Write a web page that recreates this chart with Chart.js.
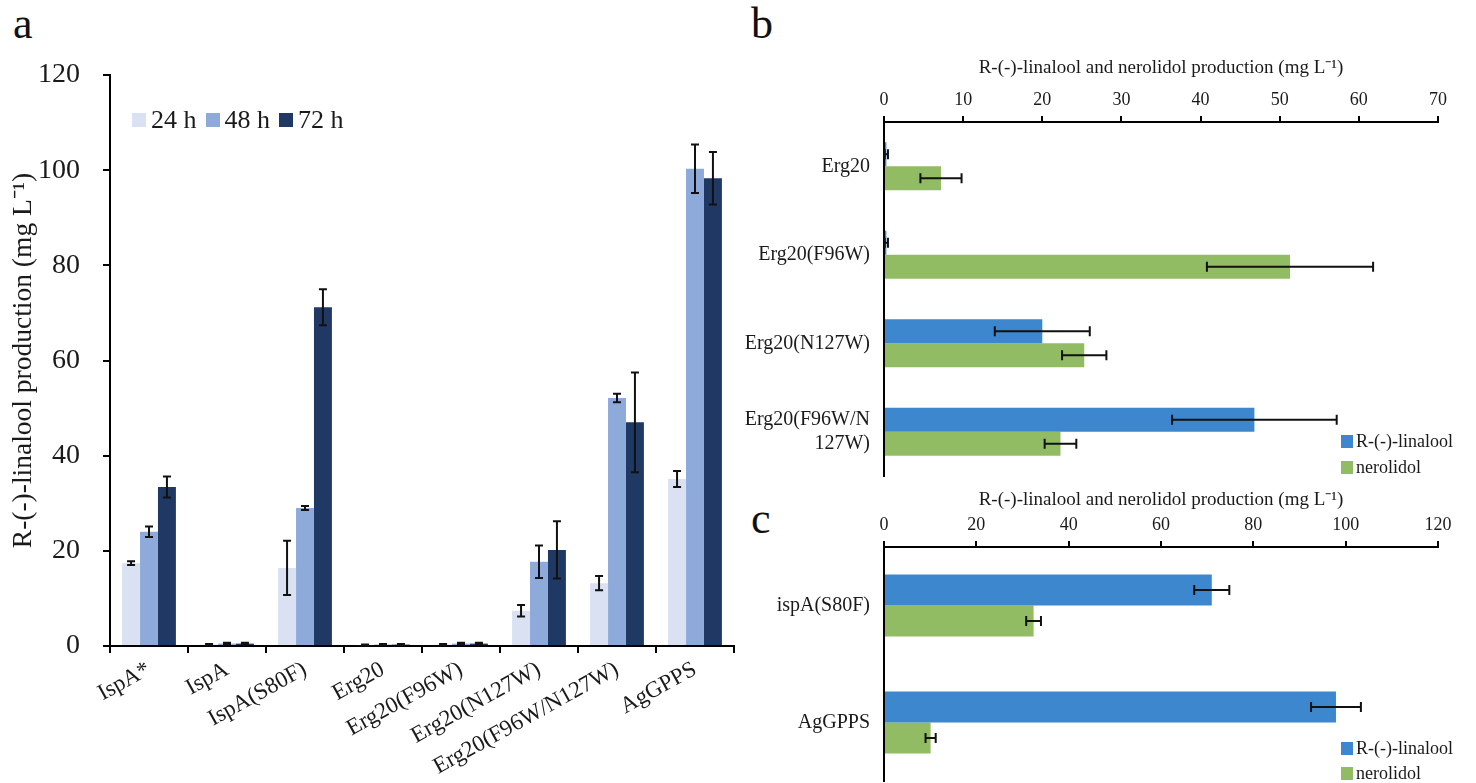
<!DOCTYPE html>
<html><head><meta charset="utf-8">
<script src="https://cdn.jsdelivr.net/npm/chart.js@4.4.1/dist/chart.umd.min.js"></script>
<style>
html,body{margin:0;padding:0;background:#fff;}
body{width:1476px;height:783px;position:relative;overflow:hidden;font-family:"Liberation Serif","Times New Roman",serif;color:#1a1a1a;}
canvas{position:absolute;}
.pl{position:absolute;font-size:44px;line-height:44px;color:#111;}
.leg{position:absolute;display:flex;align-items:center;white-space:nowrap;}
.leg span.box{display:inline-block;}
</style></head><body>
<div class="pl" style="left:13px;top:2px">a</div>
<div class="pl" style="left:751px;top:2px">b</div>
<div class="pl" style="left:751px;top:497px">c</div>
<canvas id="ca" width="745" height="783" style="left:0;top:0"></canvas>
<canvas id="cb" width="736" height="490" style="left:740px;top:0"></canvas>
<canvas id="cc" width="736" height="303" style="left:740px;top:480px"></canvas>
<div id="legA" class="leg" style="left:132px;top:105px;height:30px;font-size:26px"></div>
<div id="legB" style="position:absolute;left:1341px;top:428px;font-size:18px;line-height:26px"></div>
<div id="legC" style="position:absolute;left:1341px;top:736px;font-size:18px;line-height:25px"></div>
<script>
// ---- data: panel a ----
const catsA = ['IspA*','IspA','IspA(S80F)','Erg20','Erg20(F96W)','Erg20(N127W)','Erg20(F96W/N127W)','AgGPPS'];
const seriesA = ['24 h','48 h','72 h'];
const h24    = [17.4, 0.3, 16.4, 0.2, 0.3,  7.4, 13.2,  35.1];
const h24err = [ 0.4, 0.1,  5.7, 0.1, 0.1,  1.2,  1.5,   1.7];
const h48    = [24.0, 0.5, 29.0, 0.3, 0.5, 17.7, 52.1, 100.3];
const h48err = [ 1.1, 0.2,  0.4, 0.1, 0.2,  3.4,  0.9,   5.1];
const h72    = [33.4, 0.5, 71.2, 0.3, 0.5, 20.2, 47.0,  98.3];
const h72err = [ 2.2, 0.2,  3.8, 0.1, 0.2,  6.0, 10.5,   5.5];
const ticksA = {min:0, max:120, step:20};
// ---- data: panel b ----
const catsB = ['Erg20','Erg20(F96W)','Erg20(N127W)',['Erg20(F96W/N','127W)']];
const seriesBC = ['R-(-)-linalool','nerolidol'];
const linB    = [0.3, 0.3, 20.0, 46.8];
const linBerr = [0.2, 0.2,  6.0, 10.4];
const nerB    = [7.2, 51.3, 25.3, 22.3];
const nerBerr = [2.6, 10.5,  2.8,  2.0];
const ticksB = {min:0, max:70, step:10};
// ---- data: panel c ----
const catsC = ['ispA(S80F)','AgGPPS'];
const linC    = [71.0, 97.9];
const linCerr = [ 3.8,  5.4];
const nerC    = [32.4, 10.1];
const nerCerr = [ 1.6,  1.1];
const ticksC = {min:0, max:120, step:20};
const titleA = 'R-(-)-linalool production (mg L\u207B\u00B9)';
const titleBC = 'R-(-)-linalool and nerolidol production (mg L\u207B\u00B9)';

const F = '"Liberation Serif","Times New Roman",serif';
const colA = ['#d9e1f2','#8eaadb','#203864'];
const colBC = ['#3c87cd','#92bc63'];
const TXT = '#1a1a1a';

const errorBars = {
  id:'errorBars',
  afterDatasetsDraw(chart, args, opts){
    const ctx = chart.ctx;
    const horiz = chart.options.indexAxis === 'y';
    const vScale = horiz ? chart.scales.x : chart.scales.y;
    chart.data.datasets.forEach((ds,i)=>{
      if(!ds.errors) return;
      const meta = chart.getDatasetMeta(i);
      meta.data.forEach((bar,j)=>{
        const v = ds.data[j], e = ds.errors[j];
        const p1 = vScale.getPixelForValue(v-e), p2 = vScale.getPixelForValue(v+e);
        const cap = opts.cap || 4;
        ctx.save();
        ctx.strokeStyle = '#111'; ctx.lineWidth = opts.width || 2;
        ctx.beginPath();
        if(horiz){
          const y = bar.y;
          ctx.moveTo(p1,y); ctx.lineTo(p2,y);
          ctx.moveTo(p1,y-cap); ctx.lineTo(p1,y+cap);
          ctx.moveTo(p2,y-cap); ctx.lineTo(p2,y+cap);
        } else {
          const x = bar.x;
          ctx.moveTo(x,p1); ctx.lineTo(x,p2);
          ctx.moveTo(x-cap,p1); ctx.lineTo(x+cap,p1);
          ctx.moveTo(x-cap,p2); ctx.lineTo(x+cap,p2);
        }
        ctx.stroke();
        ctx.restore();
      });
    });
  }
};

// ---- panel a ----
const chartA = new Chart(document.getElementById('ca'), {
  type:'bar',
  data:{labels:catsA, datasets:[
    {label:seriesA[0], data:h24, errors:h24err, backgroundColor:colA[0]},
    {label:seriesA[1], data:h48, errors:h48err, backgroundColor:colA[1]},
    {label:seriesA[2], data:h72, errors:h72err, backgroundColor:colA[2]}
  ]},
  options:{
    responsive:false, animation:false, devicePixelRatio:1,
    datasets:{bar:{categoryPercentage:0.69, barPercentage:1, borderWidth:0}},
    layout:{padding:{left:0, top:75, right:11, bottom:0}},
    plugins:{legend:{display:false}, tooltip:{enabled:false}, errorBars:{cap:4, width:2}},
    scales:{
      x:{
        grid:{display:true, drawOnChartArea:false, drawTicks:true, tickLength:7, color:'#000', lineWidth:2, offset:true},
        border:{display:true, color:'#000', width:2},
        ticks:{font:{family:F, size:23}, color:TXT, minRotation:29, maxRotation:29, padding:3, autoSkip:false},
        afterFit(s){ s.height = 137; s.paddingLeft = 0; s.paddingRight = 0; }
      },
      y:{
        min:ticksA.min, max:ticksA.max,
        ticks:{stepSize:ticksA.step, font:{family:F, size:28}, color:TXT, padding:23},
        grid:{display:true, drawOnChartArea:false, drawTicks:true, tickLength:7, color:'#000', lineWidth:2},
        border:{display:true, color:'#000', width:2},
        title:{display:true, text:titleA, font:{family:F, size:27.5}, color:TXT, padding:{top:7, bottom:0}},
        afterFit(s){ s.width = 110; s.paddingTop = 0; s.paddingBottom = 0; }
      }
    }
  },
  plugins:[errorBars]
});

function hbarOptions(ticks, padTop, axisH, padBottom, cat){
  return {
    indexAxis:'y', responsive:false, animation:false, devicePixelRatio:1,
    datasets:{bar:{categoryPercentage:cat, barPercentage:1, borderWidth:0}},
    layout:{padding:{left:0, top:padTop, right:38, bottom:padBottom}},
    plugins:{legend:{display:false}, tooltip:{enabled:false}, errorBars:{cap:5, width:2}},
    scales:{
      x:{
        position:'top', min:ticks.min, max:ticks.max,
        ticks:{stepSize:ticks.step, font:{family:F, size:18}, color:TXT, padding:5},
        grid:{display:true, drawOnChartArea:false, drawTicks:true, tickLength:6, color:'#000', lineWidth:2},
        border:{display:true, color:'#000', width:2},
        title:{display:true, text:titleBC, font:{family:F, size:19}, color:TXT, padding:{top:0, bottom:0}},
        afterFit(s){ s.height = axisH; }
      },
      y:{
        ticks:{font:{family:F, size:20}, color:TXT, padding:14, autoSkip:false},
        grid:{display:false, drawTicks:false},
        border:{display:true, color:'#000', width:2},
        afterFit(s){ s.width = 144; s.paddingTop = 0; s.paddingBottom = 0; }
      }
    }
  };
}

const chartB = new Chart(document.getElementById('cb'), {
  type:'bar',
  data:{labels:catsB, datasets:[
    {label:seriesBC[0], data:linB, errors:linBerr, backgroundColor:colBC[0]},
    {label:seriesBC[1], data:nerB, errors:nerBerr, backgroundColor:colBC[1]}
  ]},
  options:hbarOptions(ticksB, 57, 65, 14, 0.54),
  plugins:[errorBars]
});

const chartC = new Chart(document.getElementById('cc'), {
  type:'bar',
  data:{labels:catsC, datasets:[
    {label:seriesBC[0], data:linC, errors:linCerr, backgroundColor:colBC[0]},
    {label:seriesBC[1], data:nerC, errors:nerCerr, backgroundColor:colBC[1]}
  ]},
  options:hbarOptions(ticksC, 9, 58, 2, 0.53),
  plugins:[errorBars]
});

// ---- legends (HTML, built from chart data) ----
function buildRowLegend(el, chart, box, gap, textGap){
  chart.data.datasets.forEach(ds=>{
    const b = document.createElement('span');
    b.className='box';
    b.style.cssText = `width:${box}px;height:${box}px;background:${ds.backgroundColor};margin-right:${gap}px`;
    const t = document.createElement('span');
    t.textContent = ds.label;
    t.style.marginRight = textGap+'px';
    el.appendChild(b); el.appendChild(t);
  });
}
buildRowLegend(document.getElementById('legA'), chartA, 14, 5, 9);
function buildColLegend(el, chart){
  chart.data.datasets.forEach(ds=>{
    const row = document.createElement('div');
    row.style.cssText='display:flex;align-items:center;white-space:nowrap';
    const b = document.createElement('span');
    b.style.cssText = `display:inline-block;width:12px;height:13px;background:${ds.backgroundColor};margin-right:3px`;
    const t = document.createElement('span');
    t.textContent = ds.label;
    row.appendChild(b); row.appendChild(t);
    el.appendChild(row);
  });
}
buildColLegend(document.getElementById('legB'), chartB);
buildColLegend(document.getElementById('legC'), chartC);
</script>
</body></html>
